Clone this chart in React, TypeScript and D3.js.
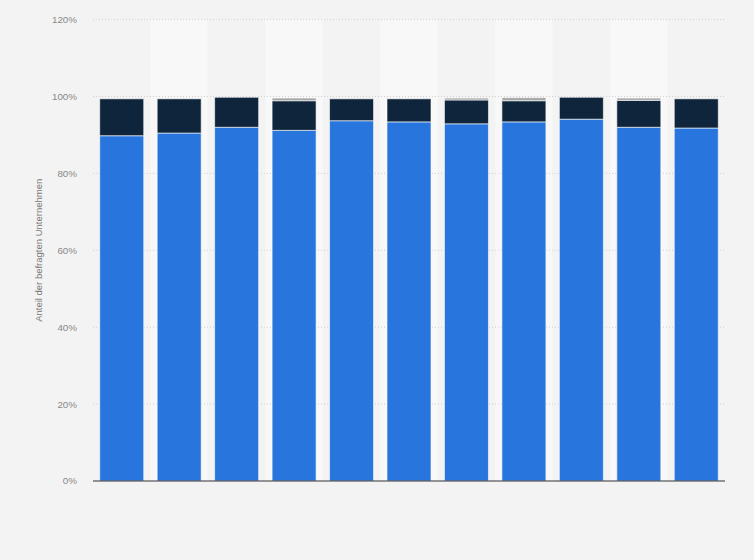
import React from 'react'
import * as d3 from 'd3'

const categories = ['1', '2', '3', '4', '5', '6', '7', '8', '9', '10', '11']
const blueValues = [89.8, 90.5, 92.0, 91.2, 93.7, 93.4, 92.9, 93.4, 94.1, 92.0, 91.8]
const navyValues = [9.6, 8.9, 7.8, 7.7, 5.7, 6.0, 6.2, 5.5, 5.7, 7.0, 7.6]
const greyValues = [0, 0, 0, 0.7, 0, 0, 0.5, 0.8, 0, 0.6, 0]
const yTicks = [0, 20, 40, 60, 80, 100, 120]

const seriesColors = ['#2876dd', '#0f253b', '#a5a5a5']

const App: React.FunctionComponent = () => {
  const width = 754
  const height = 560
  const margin = { top: 19.6, right: 29, bottom: 79, left: 93 }
  const innerWidth = width - margin.left - margin.right
  const innerHeight = height - margin.top - margin.bottom

  const x = d3
    .scaleBand()
    .domain(categories)
    .range([0, innerWidth])
    .paddingInner(0.234)
    .paddingOuter(0.117)

  const bands = d3.scaleBand().domain(categories).range([0, innerWidth])

  const y = d3.scaleLinear().domain([0, 120]).range([innerHeight, 0])

  const rows = categories.map((c, i) => ({
    category: c,
    blue: blueValues[i],
    navy: navyValues[i],
    grey: greyValues[i],
  }))

  const stacked = d3.stack<(typeof rows)[number]>().keys(['blue', 'navy', 'grey'])(rows)

  return (
    <svg
      width={width}
      height={height}
      style={{ position: 'absolute', left: 0, top: 0, background: '#f3f3f3' }}
      fontFamily="Arial, 'Liberation Sans', sans-serif"
    >
      <rect width={width} height={height} fill="#f3f3f3" />
      <g transform={`translate(${margin.left},${margin.top})`}>
        {categories.map((c, i) => (
          <rect
            key={`band-${c}`}
            x={bands(c)}
            y={0}
            width={bands.bandwidth()}
            height={innerHeight}
            fill={i % 2 === 1 ? '#f8f8f8' : '#f3f3f3'}
          />
        ))}
        {yTicks.map(t => (
          <g key={`tick-${t}`}>
            {t > 0 && (
              <line
                x1={0}
                x2={innerWidth}
                y1={y(t)}
                y2={y(t)}
                stroke="#d0d0d0"
                strokeWidth={1}
                strokeDasharray="1,2"
              />
            )}
            <text
              x={-16}
              y={y(t)}
              dy="0.35em"
              textAnchor="end"
              fontSize={9.8}
              fill="#888"
            >
              {`${t}%`}
            </text>
          </g>
        ))}
        {stacked.map((layer, li) => (
          <g key={`layer-${li}`} fill={seriesColors[li]}>
            {layer.map(d =>
              d[1] - d[0] > 0 ? (
                <rect
                  key={d.data.category}
                  x={x(d.data.category)}
                  y={y(d[1])}
                  width={x.bandwidth()}
                  height={y(d[0]) - y(d[1])}
                  stroke="#ffffff"
                  strokeOpacity={0.6}
                  strokeWidth={1}
                />
              ) : null
            )}
          </g>
        ))}
        <line x1={0} x2={innerWidth} y1={innerHeight} y2={innerHeight} stroke="#333" strokeWidth={1.2} />
      </g>
      <text
        transform={`translate(42,${margin.top + innerHeight / 2}) rotate(-90)`}
        textAnchor="middle"
        fontSize={9.5}
        fill="#777"
      >
        Anteil der befragten Unternehmen
      </text>
    </svg>
  )
}

export default App
